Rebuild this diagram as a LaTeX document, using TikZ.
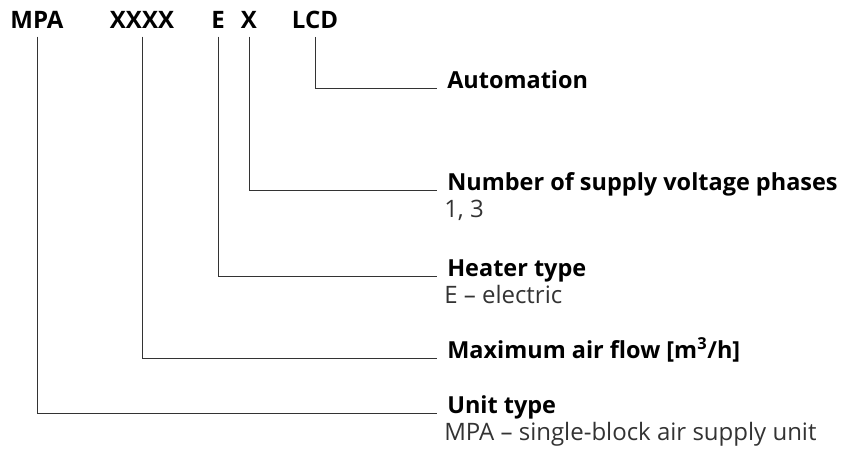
\documentclass[tikz,border=0pt]{standalone}
\usepackage{fontspec}
\setmainfont{Open Sans}
\usepackage{tikz}
\usetikzlibrary{positioning}

\tikzset{
  codetxt/.style={font=\fontsize{18}{21}\selectfont\bfseries, anchor=base, inner xsep=0pt, inner ysep=5.5pt},
  keylbl/.style={font=\fontsize{17.6}{21}\selectfont\bfseries, anchor=base west, inner xsep=7.5pt, inner ysep=0pt},
  subtxt/.style={font=\fontsize{18}{21}\selectfont, anchor=base west, inner sep=0pt, text=black!80},
  leader/.style={draw=black!80, line width=0.75pt}
}

\begin{document}
\begin{tikzpicture}[x=0.75pt, y=-0.75pt]
  \useasboundingbox (0,0) rectangle (850,453);

  % Designation code
  \node[codetxt] (mpa)  at (37,29)  {MPA};
  \node[codetxt] (xxxx) at (142,29) {XXXX};
  \node[codetxt] (e)    at (218,29) {E};
  \node[codetxt] (x)    at (249,29) {X};
  \node[codetxt] (lcd)  at (315,29) {LCD};

  % Meaning of each part
  \node[keylbl] (auto)  at (437,89)  {Automation};
  \node[keylbl] (phase) at (437,190) {Number of supply voltage phases};
  \node[keylbl] (heat)  at (437,276) {Heater type};
  \node[keylbl] (flow)  at (437,358) {Maximum air flow [m\textsuperscript{3}/h]};
  \node[keylbl] (unit)  at (437,413) {Unit type};

  \node[subtxt] (phasesub) at (444,217) {1, 3};
  \node[subtxt] (heatsub)  at (444,303) {E -- electric};
  \node[subtxt] (unitsub)  at (444,440) {MPA -- single-block air supply unit};

  % Leaders
  \draw[leader] (lcd.south)  |- (auto.base west);
  \draw[leader] (x.south)    |- (phase.base west);
  \draw[leader] (e.south)    |- (heat.base west);
  \draw[leader] (xxxx.south) |- (flow.base west);
  \draw[leader] (mpa.south)  |- (unit.base west);
\end{tikzpicture}
\end{document}
